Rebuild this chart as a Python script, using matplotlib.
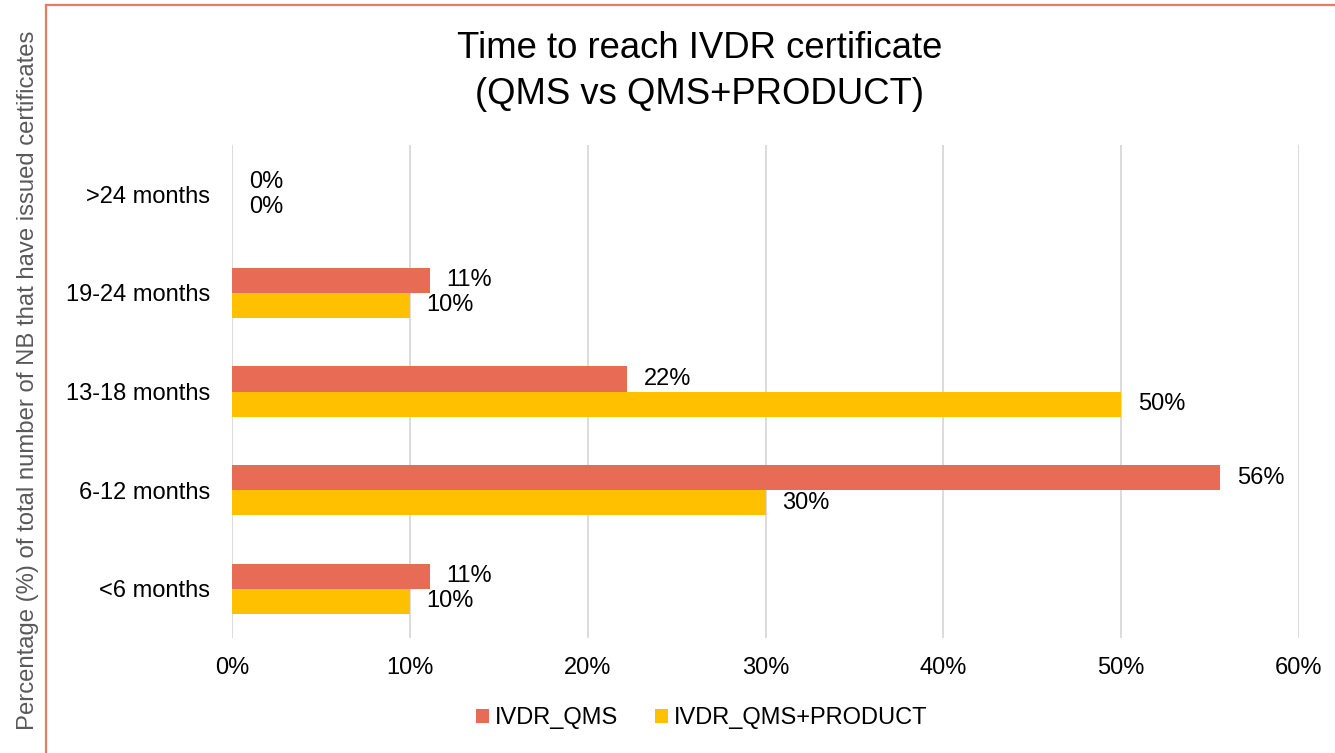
import matplotlib
matplotlib.use("Agg")
import matplotlib.pyplot as plt
from matplotlib.lines import Line2D
import numpy as np

categories = ["<6 months", "6-12 months", "13-18 months", "19-24 months", ">24 months"]
qms = [11.11, 55.56, 22.22, 11.11, 0.0]
qms_product = [10.0, 30.0, 50.0, 10.0, 0.0]
series_names = ["IVDR_QMS", "IVDR_QMS+PRODUCT"]
xticks = [0, 10, 20, 30, 40, 50, 60]
title_lines = ["Time to reach IVDR certificate", "(QMS vs QMS+PRODUCT)"]
ylabel = "Percentage (%) of total number of NB that have issued certificates"

c_qms = "#E86B55"
c_prod = "#FFC000"
font = "Liberation Sans"
plt.rcParams["font.family"] = [font, "DejaVu Sans"]

W, H = 1335, 753
fs = 17
fig = plt.figure(figsize=(W / 100, H / 100), dpi=100)
ax = fig.add_axes([232 / W, 1 - 638 / H, (1299 - 232) / W, (638 - 145) / H])

y = np.arange(len(categories))
h = 0.255
b1 = ax.barh(y + h / 2, qms, height=h, color=c_qms, label=series_names[0], zorder=3)
b2 = ax.barh(y - h / 2, qms_product, height=h, color=c_prod, label=series_names[1], zorder=3)

for bars, vals in ((b1, qms), (b2, qms_product)):
    for rect, v in zip(bars, vals):
        ax.annotate(f"{v:.0f}%", xy=(v, rect.get_y() + rect.get_height() / 2),
                    xytext=(12, 0), textcoords="offset points",
                    ha="left", va="center", fontsize=fs, color="#000000")

ax.set_xlim(0, 60)
ax.set_ylim(-0.5, len(categories) - 0.5)
ax.set_xticks(xticks)
ax.set_xticklabels([f"{t}%" for t in xticks], fontsize=fs)
ax.set_yticks(y)
ax.set_yticklabels(categories, fontsize=fs)
ax.tick_params(axis="both", length=0, colors="#000000")
ax.tick_params(axis="x", pad=14)
ax.tick_params(axis="y", pad=16)
ax.grid(axis="x", color="#D9D9D9", linewidth=1.3, zorder=0)
for s in ax.spines.values():
    s.set_visible(False)

fig.text(700 / W, 1 - 48 / H, title_lines[0], ha="center", va="center", fontsize=26.3,
         color="#000000")
fig.text(700 / W, 1 - 94 / H, title_lines[1], ha="center", va="center", fontsize=26.3,
         color="#000000")

fig.text(28 / W, 1 - 380 / H, ylabel, rotation=90, ha="center", va="center",
         fontsize=17.2, color="#595959")

leg = fig.legend(handles=[b1, b2], labels=series_names, loc="center",
                 bbox_to_anchor=(702 / W, 1 - 718 / H), ncol=2, frameon=False,
                 fontsize=fs, handlelength=0.55, handleheight=0.55, handletextpad=0.25,
                 columnspacing=1.57)

border = "#EC7A63"
fig.add_artist(Line2D([46 / W, 1], [1 - 5 / H, 1 - 5 / H], transform=fig.transFigure,
                      color=border, linewidth=1.6))
fig.add_artist(Line2D([46 / W, 46 / W], [0, 1 - 5 / H], transform=fig.transFigure,
                      color=border, linewidth=1.6))

fig.savefig("out.png", dpi=100, facecolor="white")
